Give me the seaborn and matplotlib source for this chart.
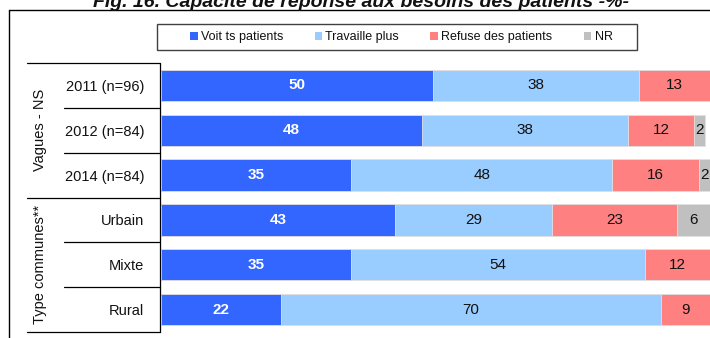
import matplotlib
matplotlib.use("Agg")
import matplotlib.pyplot as plt
from matplotlib.patches import Patch, Rectangle
from matplotlib.lines import Line2D
from matplotlib import transforms
from matplotlib.font_manager import FontProperties
import seaborn as sns
import pandas as pd
import numpy as np

# ---- data ----
categories = ["2011 (n=96)", "2012 (n=84)", "2014 (n=84)", "Urbain", "Mixte", "Rural"]
voit = [50, 48, 35, 43, 35, 22]
travaille = [38, 38, 48, 29, 54, 70]
refuse = [13, 12, 16, 23, 12, 9]
nr = [0, 2, 2, 6, 0, 0]
series_names = ["Voit ts patients", "Travaille plus", "Refuse des patients", "NR"]
group_labels = ["Vagues - NS", "Type communes**"]
title = "Fig. 16. Capacité de réponse aux besoins des patients -%-"

colors = ["#3366FF", "#99CCFF", "#FF8080", "#C0C0C0"]

sns.set_theme(style="white")
FAM = ["Liberation Sans", "DejaVu Sans"]
plt.rcParams["font.family"] = FAM
TXT = "#111111"

W, H = 710, 338
fig = plt.figure(figsize=(W / 100, H / 100), dpi=100)
fig.patch.set_facecolor("white")
ax = fig.add_axes([161 / W, 6 / H, 549 / W, 269 / H])

series = [voit, travaille, refuse, nr]
cum = np.cumsum(np.array(series, dtype=float), axis=0)
df = pd.DataFrame({"cat": categories})
# stacked bars: cumulative totals drawn from back to front
for i in range(3, -1, -1):
    df["val"] = cum[i]
    sns.barplot(data=df, y="cat", x="val", orient="y", color=colors[i],
                width=0.7, ax=ax, edgecolor="#E2E2E2", linewidth=0.6,
                saturation=1)

ax.set_xlim(0, 101)
ax.set_ylim(5.5, -0.5)
ax.set_xlabel("")
ax.set_ylabel("")
ax.set_xticks([])
for s in ax.spines.values():
    s.set_visible(False)
ax.tick_params(axis="y", length=0, pad=12, labelsize=10.5, labelcolor=TXT)

# value labels
for i in range(4):
    starts = cum[i] - np.array(series[i])
    for j, v in enumerate(series[i]):
        if v <= 0:
            continue
        xc = starts[j] + v / 2
        if i == 0:
            ax.text(xc, j, f"{v}", ha="center", va="center", color="white",
                    fontsize=11, fontweight="bold")
        else:
            ax.text(xc, j, f"{v}", ha="center", va="center", color=TXT,
                    fontsize=11)

# table lines on the left
trans = transforms.blended_transform_factory(fig.transFigure, ax.transData)
xl, xm, xr = 27 / W, 64 / W, 160 / W
for yv, x0 in [(-0.5, xl), (0.5, xm), (1.5, xm), (2.5, xl), (3.5, xm), (4.5, xm), (5.5, xl)]:
    ax.add_line(Line2D([x0, xr], [yv, yv], transform=trans, color="black",
                       lw=0.9, clip_on=False))
ax.add_line(Line2D([xr, xr], [-0.5, 5.5], transform=trans, color="black",
                   lw=0.9, clip_on=False))
ax.text(40 / W, 1, group_labels[0], transform=trans, rotation=90,
        ha="center", va="center", fontsize=10.5, color=TXT)
ax.text(40 / W, 4, group_labels[1], transform=trans, rotation=90,
        ha="center", va="center", fontsize=10.5, color=TXT)

# outer frame (left and top)
fig.add_artist(Line2D([9 / W, 9 / W], [-0.05, 1 - 10 / H], transform=fig.transFigure,
                      color="black", lw=1.0))
fig.add_artist(Line2D([9 / W, 1.05], [1 - 10 / H, 1 - 10 / H], transform=fig.transFigure,
                      color="black", lw=1.0))

# title (partly cut at the top, as in the source)
fig.text(361 / W, 1 - 7 / H, title, ha="center", va="baseline",
         fontsize=14, fontweight="bold", fontstyle="italic", color=TXT)

# legend
handles = [Patch(facecolor=c, edgecolor="none") for c in colors]
leg = fig.legend(handles, series_names, ncol=4, loc="center left",
                 bbox_to_anchor=(190 / W, 1 - 37 / H), frameon=False,
                 handlelength=0.62, handleheight=0.62, handletextpad=0.25,
                 columnspacing=2.5, borderpad=0, borderaxespad=0,
                 prop=FontProperties(family=FAM, size=9))
for t in leg.get_texts():
    t.set_color(TXT)
fig.add_artist(Rectangle((157 / W, 1 - 50 / H), 480 / W, 26 / H,
                         transform=fig.transFigure, fill=False,
                         edgecolor="#404040", lw=1.0))

fig.savefig("out.png", dpi=100)
